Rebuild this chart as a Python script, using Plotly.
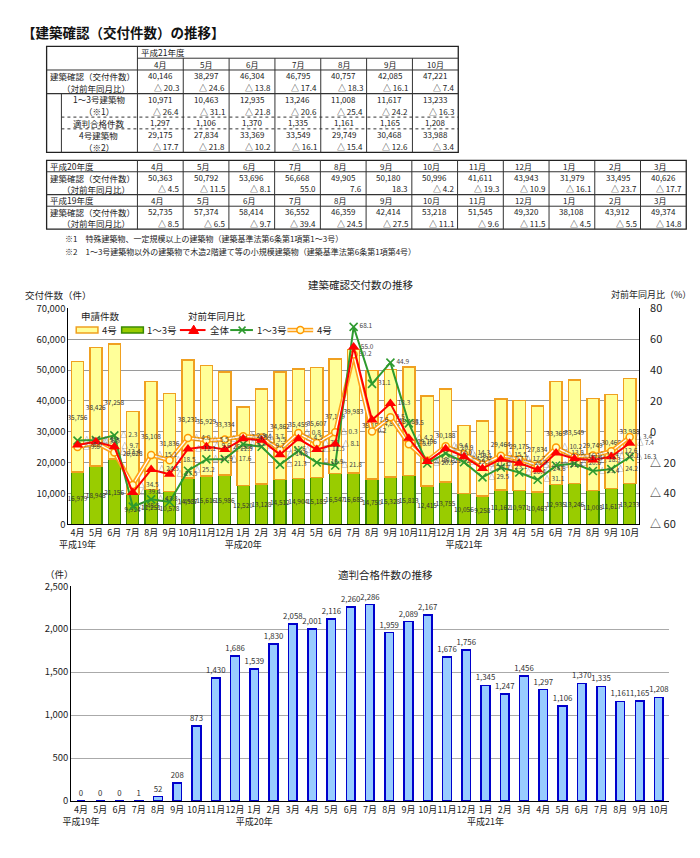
import plotly.graph_objects as go

W, H = 700, 858
FONT = "Noto Sans CJK JP, sans-serif"


def px(x):
    return x / W


def py(y):
    return 1 - y / H


# ---------------- data ----------------
MONTHS = ["4月", "5月", "6月", "7月", "8月", "9月", "10月", "11月", "12月", "1月", "2月", "3月"]
PERIOD_MONTHS = MONTHS + MONTHS + MONTHS[:7]          # H19/4 .. H21/10
ERA_MARKS = {0: "平成19年", 9: "平成20年", 21: "平成21年"}

# 1~3号 建築物 (件)
G13 = [16979, 18948, 21156, 9924, 11251, 10578, 14987, 15616, 15986, 12520, 13128, 14512,
       14904, 15185, 16547, 16685, 14750, 15328, 15813, 12415, 13755, 10056, 9258, 11162,
       10971, 10463, 12935, 13246, 11008, 11617, 13233]
# 4号 建築物 (件)
G4 = [35756, 38426, 37258, 26628, 35108, 31836, 38231, 35929, 33334, 25588, 30784, 34862,
      35459, 35607, 37149, 39983, 35155, 34852, 35183, 29196, 30188, 21923, 24237, 29464,
      29175, 27834, 33369, 33549, 29749, 30468, 33988]
# 建築確認 交付件数 合計
TOTAL = [52735, 57374, 58414, 36552, 46359, 42414, 53218, 51545, 49320, 38108, 43912, 49374,
         50363, 50792, 53696, 56668, 49905, 50180, 50996, 41611, 43943, 31979, 33495, 40626,
         40146, 38297, 46304, 46795, 40757, 42085, 47221]
# 対前年同月比 (%)
PCT_TOTAL = [-8.5, -6.5, -9.7, -39.4, -24.5, -27.5, -11.1, -9.6, -11.5, -4.5, -5.5, -14.8,
             -4.5, -11.5, -8.1, 55.0, 7.6, 18.3, -4.2, -19.3, -10.9, -16.1, -23.7, -17.7,
             -20.3, -24.6, -13.8, -17.4, -18.3, -16.1, -7.4]
PCT_G13 = [-5.7, -5.3, -2.3, -48.5, -43.8, -45.5, -25.2, -17.9, -17.6, -8.0, -9.7, -21.3,
           -12.2, -19.9, -21.8, 68.1, 31.1, 44.9, 5.5, -20.5, -14.0, -19.7, -29.5, -23.1,
           -26.4, -31.1, -21.8, -20.6, -25.4, -24.2, -16.3]
PCT_G4 = [-9.8, -7.1, -13.4, -34.5, -15.1, -18.5, -4.0, -5.5, -4.9, -2.8, -3.7, -11.6,
          -0.8, -7.3, -0.3, 50.2, 0.2, 9.5, -8.0, -18.7, -9.4, -14.3, -21.3, -15.5,
          -17.7, -21.8, -10.2, -16.1, -15.4, -12.6, -3.4]
# 適判合格件数
TEKIHAN = [0, 0, 0, 1, 52, 208, 873, 1430, 1686, 1539, 1830, 2058,
           2001, 2116, 2260, 2286, 1959, 2089, 2167, 1676, 1756, 1345, 1247, 1456,
           1297, 1106, 1370, 1335, 1161, 1165, 1208]

PCT_TICKS = [-60, -40, -20, 0, 20, 40, 60, 80]

# colours
YELLOW_FILL, YELLOW_LINE = "#FFFF99", "#F0A020"
GREEN_FILL, GREEN_LINE = "#99CC00", "#3A8A00"
RED = "#FF0000"
GREEN = "#2E9A2E"
ORANGE = "#FFA31A"


def fmt_num(v):
    return f"{v:,}"


def fmt_pct(v):
    return f"△ {abs(v):.1f}" if v < 0 else f"{v:.1f}"


idx = list(range(len(PERIOD_MONTHS)))
ticktext = [m + ("<br>" + ERA_MARKS[i] if i in ERA_MARKS else "") for i, m in enumerate(PERIOD_MONTHS)]

fig = go.Figure()

# ---------------- middle chart: bars ----------------
fig.add_trace(go.Bar(
    x=idx, y=G13, name="1～3号", xaxis="x", yaxis="y",
    marker=dict(color=GREEN_FILL, line=dict(color=GREEN_LINE, width=1.2)),
    width=0.66, text=[fmt_num(v) for v in G13], textposition="inside",
    insidetextanchor="middle", textangle=0, constraintext="none",
    textfont=dict(size=6.5, color="#333333"), hoverinfo="skip"))
fig.add_trace(go.Bar(
    x=idx, y=G4, name="4号", xaxis="x", yaxis="y",
    marker=dict(color=YELLOW_FILL, line=dict(color=YELLOW_LINE, width=1.5)),
    width=0.66, text=[fmt_num(v) for v in G4], textposition="inside",
    insidetextanchor="middle", textangle=0, constraintext="none",
    textfont=dict(size=6.5, color="#333333"), hoverinfo="skip"))

# ---------------- middle chart: lines (right axis) ----------------
fig.add_trace(go.Scatter(
    x=idx, y=PCT_G4, name="4号", xaxis="x", yaxis="y2", mode="lines",
    line=dict(color=ORANGE, width=4.5), hoverinfo="skip"))
fig.add_trace(go.Scatter(
    x=idx, y=PCT_G4, xaxis="x", yaxis="y2", mode="lines",
    line=dict(color="#FFFFFF", width=1.3), hoverinfo="skip"))
fig.add_trace(go.Scatter(
    x=idx, y=PCT_G4, xaxis="x", yaxis="y2", mode="markers+text",
    marker=dict(symbol="circle", size=7, color="#FFFFCC", line=dict(color="#FF9900", width=1.5)),
    text=[fmt_pct(v) for v in PCT_G4], textposition="middle right",
    textfont=dict(size=6.5, color="#444444"), cliponaxis=False, hoverinfo="skip"))
fig.add_trace(go.Scatter(
    x=idx, y=PCT_G13, name="1～3号", xaxis="x", yaxis="y2", mode="lines+markers+text",
    line=dict(color=GREEN, width=2),
    marker=dict(symbol="x-thin", size=8, color=GREEN, line=dict(color=GREEN, width=1.6)),
    text=[fmt_pct(v) for v in PCT_G13], textposition="middle right",
    textfont=dict(size=6.5, color="#444444"), cliponaxis=False, hoverinfo="skip"))
fig.add_trace(go.Scatter(
    x=idx, y=PCT_TOTAL, name="全体", xaxis="x", yaxis="y2", mode="lines+markers+text",
    line=dict(color=RED, width=2),
    marker=dict(symbol="triangle-up", size=10, color=RED),
    text=[fmt_pct(v) for v in PCT_TOTAL], textposition="middle right",
    textfont=dict(size=6.5, color="#444444"), cliponaxis=False, hoverinfo="skip"))

# ---------------- bottom chart ----------------
fig.add_trace(go.Bar(
    x=idx, y=TEKIHAN, xaxis="x2", yaxis="y3", width=0.45,
    marker=dict(color="#99CCFF", line=dict(color="#0000CC", width=1.5)),
    text=[fmt_num(v) for v in TEKIHAN], textposition="outside", cliponaxis=False,
    constraintext="none", textangle=0,
    textfont=dict(size=7.8, color="#333333"), hoverinfo="skip"))

axis_font = dict(size=9.5, color="#222222", family=FONT)

fig.update_layout(
    width=W, height=H, margin=dict(l=0, r=0, t=0, b=0),
    paper_bgcolor="white", plot_bgcolor="white",
    font=dict(family=FONT, color="#222222"),
    barmode="stack", bargap=0.3,
    showlegend=False,
    xaxis=dict(domain=[px(52), px(630)], anchor="y", range=[-0.5, 30.5],
               tickmode="array", tickvals=idx, ticktext=ticktext, tickangle=0,
               tickfont=dict(size=9, color="#222222", family=FONT),
               showline=True, linecolor="#000000", linewidth=1,
               showgrid=False, zeroline=False, ticks=""),
    yaxis=dict(domain=[py(517), py(297)], anchor="x", range=[0, 70000],
               tickmode="array", tickvals=list(range(0, 70001, 10000)), tickformat=",d",
               tickfont=axis_font, showline=True, linecolor="#000000", linewidth=1,
               showgrid=True, gridcolor="#9A9A9A", gridwidth=1, zeroline=False, ticks=""),
    yaxis2=dict(overlaying="y", side="right", anchor="x", range=[-60, 80],
                tickmode="array", tickvals=PCT_TICKS,
                ticktext=[fmt_pct(v).replace(".0", "") for v in PCT_TICKS],
                tickfont=dict(size=11, color="#222222", family=FONT), showline=True,
                linecolor="#000000", linewidth=1, showgrid=False, zeroline=False, ticks="",
                ticklabelstandoff=8),
    xaxis2=dict(domain=[px(55), px(660)], anchor="y3", range=[-0.5, 30.5],
                tickmode="array", tickvals=idx, ticktext=ticktext, tickangle=0,
                tickfont=dict(size=9, color="#222222", family=FONT), showline=True,
                linecolor="#000000", linewidth=1, showgrid=False, zeroline=False, ticks=""),
    yaxis3=dict(domain=[py(799), py(580)], anchor="x2", range=[0, 2500],
                tickmode="array", tickvals=list(range(0, 2501, 500)), tickformat=",d",
                tickfont=axis_font, showline=True, linecolor="#000000", linewidth=1,
                showgrid=True, gridcolor="#AAAAAA", zeroline=False, ticks=""),
)

annotations = []
shapes = []


def text(x, y, s, size=8.5, anchor="center", color="#222222"):
    annotations.append(dict(x=px(x), y=py(y), xref="paper", yref="paper", text=s,
                            showarrow=False, xanchor=anchor, yanchor="middle",
                            font=dict(size=size, color=color, family=FONT)))


def line(x0, y0, x1, y1, width=1, dash="solid", color="#333333"):
    shapes.append(dict(type="line", xref="paper", yref="paper", x0=px(x0), y0=py(y0),
                       x1=px(x1), y1=py(y1), line=dict(color=color, width=width, dash=dash)))


def rect(x0, y0, x1, y1, fill, border, width=1.2):
    shapes.append(dict(type="rect", xref="paper", yref="paper", x0=px(x0), y0=py(y1),
                       x1=px(x1), y1=py(y0), fillcolor=fill, line=dict(color=border, width=width)))


# chart titles
text(348, 273, "建築確認交付数の推移", size=10.5)
text(6, 283, "交付件数（件）", size=9.5, anchor="left")
text(600, 283, "対前年同月比（%）", size=9, anchor="left")
text(373, 568, "適判合格件数の推移", size=10.5)
text(26, 568, "（件）", size=9.5, anchor="left")

# ---------------- legend of the middle chart ----------------
LEG_Y = 319
text(63, 305, "申請件数", size=9.5, anchor="left")
text(171, 305, "対前年同月比", size=9.5, anchor="left")
rect(60, LEG_Y - 3, 82, LEG_Y + 3, YELLOW_FILL, YELLOW_LINE, 1.5)
text(84, LEG_Y, "4号", size=9.5, anchor="left")
rect(106, LEG_Y - 3, 128, LEG_Y + 3, GREEN_FILL, GREEN_LINE, 1.5)
text(130, LEG_Y, "1～3号", size=9.5, anchor="left")
# 全体 (red line with triangle)
line(165, LEG_Y, 191, LEG_Y, width=2, color=RED)
shapes.append(dict(type="path", xref="paper", yref="paper",
                   path=f"M {px(174)},{py(LEG_Y + 3.5)} L {px(184)},{py(LEG_Y + 3.5)} L {px(179)},{py(LEG_Y - 5)} Z",
                   fillcolor=RED, line=dict(color=RED, width=1)))
text(193, LEG_Y, "全体", size=9.5, anchor="left")
# 1~3号 (green line with x)
line(216, LEG_Y, 239, LEG_Y, width=2, color=GREEN)
line(224.5, LEG_Y - 3.5, 231.5, LEG_Y + 3.5, width=1.6, color=GREEN)
line(224.5, LEG_Y + 3.5, 231.5, LEG_Y - 3.5, width=1.6, color=GREEN)
text(241, LEG_Y, "1～3号", size=9.5, anchor="left")
# 4号 (orange double line with circle)
line(274, LEG_Y, 300, LEG_Y, width=4.5, color=ORANGE)
line(274, LEG_Y, 300, LEG_Y, width=1.3, color="#FFFFFF")
shapes.append(dict(type="circle", xref="paper", yref="paper",
                   x0=px(283.5), x1=px(290.5), y0=py(LEG_Y + 3.5), y1=py(LEG_Y - 3.5),
                   fillcolor="#FFFFCC", line=dict(color="#FF9900", width=1.5)))
text(302, LEG_Y, "4号", size=9.5, anchor="left")

# page title
text(3, 15, "<b>【建築確認（交付件数）の推移】</b>", size=13.5, anchor="left", color="#111111")

# ---------------- table 1 (平成21年度) ----------------
T1X0, T1LBL, T1COLW, T1Y0, T1RH = 30, 122, 46.43, 30, 12
T1X1 = T1LBL + 7 * T1COLW
T1Y1 = T1Y0 + 9 * T1RH
shapes.append(dict(type="rect", xref="paper", yref="paper", x0=px(T1X0), y0=py(T1Y1),
                   x1=px(T1X1), y1=py(T1Y0), line=dict(color="#222222", width=1.3)))
line(T1LBL, T1Y0 + T1RH, T1X1, T1Y0 + T1RH)
line(T1X0, T1Y0 + 2 * T1RH, T1X1, T1Y0 + 2 * T1RH)
line(T1X0, T1Y0 + 4 * T1RH, T1X1, T1Y0 + 4 * T1RH, width=1.3)
line(45, T1Y0 + 6 * T1RH, T1X1, T1Y0 + 6 * T1RH, dash="dot")
line(45, T1Y0 + 7 * T1RH, T1X1, T1Y0 + 7 * T1RH, dash="dot")
line(T1LBL, T1Y0, T1LBL, T1Y1)
line(45, T1Y0 + 4 * T1RH, 45, T1Y1)
for k in range(1, 7):
    xk = T1LBL + k * T1COLW
    line(xk, T1Y0 + T1RH, xk, T1Y1)


def rc(r):
    return T1Y0 + (r + 0.5) * T1RH


text(124, rc(0), "平成21年度", anchor="left", size=8.5)
text(T1X0 + 1, rc(2), "建築確認（交付件数）", anchor="left", size=8.5)
text(80, rc(3), "（対前年同月比）", size=8.5)
text(83, rc(4), "1～3号建築物", size=8.5)
text(83, rc(5), "（※1）", size=8.5)
text(83, rc(6), "適判合格件数", size=8.5)
text(83, rc(7), "4号建築物", size=8.5)
text(83, rc(8), "（※2）", size=8.5)
h21 = slice(24, 31)
rows_num = {2: TOTAL[h21], 4: G13[h21], 6: TEKIHAN[h21], 7: G4[h21]}
rows_pct = {3: PCT_TOTAL[h21], 5: PCT_G13[h21], 8: PCT_G4[h21]}
for k, m in enumerate(MONTHS[:7]):
    cx = T1LBL + (k + 0.5) * T1COLW
    text(cx, rc(1), m, size=8)
    for r, vals in rows_num.items():
        text(cx, rc(r), fmt_num(vals[k]), size=8)
    for r, vals in rows_pct.items():
        text(T1LBL + (k + 1) * T1COLW - 2, rc(r), fmt_pct(vals[k]), size=8, anchor="right")

# ---------------- table 2 (平成20年度 / 平成19年度) ----------------
T2X0, T2LBL, T2COLW, T2Y0, T2RH = 30, 122, 46.33, 146, 11.7
T2X1 = T2LBL + 12 * T2COLW
T2Y1 = T2Y0 + 6 * T2RH
shapes.append(dict(type="rect", xref="paper", yref="paper", x0=px(T2X0), y0=py(T2Y1),
                   x1=px(T2X1), y1=py(T2Y0), line=dict(color="#222222", width=1.3)))
line(T2X0, T2Y0 + T2RH, T2X1, T2Y0 + T2RH)
line(T2X0, T2Y0 + 3 * T2RH, T2X1, T2Y0 + 3 * T2RH, width=1.3)
line(T2X0, T2Y0 + 4 * T2RH, T2X1, T2Y0 + 4 * T2RH)
line(T2LBL, T2Y0, T2LBL, T2Y1)
for k in range(1, 12):
    xk = T2LBL + k * T2COLW
    line(xk, T2Y0, xk, T2Y1)


def rc2(r):
    return T2Y0 + (r + 0.5) * T2RH


blocks = [(0, "平成20年度", slice(12, 24)), (3, "平成19年度", slice(0, 12))]
for r0, label, sl in blocks:
    text(T2X0 + 1, rc2(r0), label, anchor="left", size=8.5)
    text(T2X0 + 1, rc2(r0 + 1), "建築確認（交付件数）", anchor="left", size=8.5)
    text(80, rc2(r0 + 2), "（対前年同月比）", size=8.5)
    tot = TOTAL[sl]
    pct = PCT_TOTAL[sl]
    for k, m in enumerate(MONTHS):
        cx = T2LBL + (k + 0.5) * T2COLW
        text(cx - 3, rc2(r0), m, size=8)
        text(cx, rc2(r0 + 1), fmt_num(tot[k]), size=8)
        text(T2LBL + (k + 1) * T2COLW - 2, rc2(r0 + 2), fmt_pct(pct[k]), size=8, anchor="right")

text(47, 226, "※1　特殊建築物、一定規模以上の建築物（建築基準法第6条第1項第1～3号）", size=8, anchor="left")
text(47, 239, "※2　1～3号建築物以外の建築物で木造2階建て等の小規模建築物（建築基準法第6条第1項第4号）", size=8, anchor="left")

fig.update_layout(annotations=annotations, shapes=shapes)

fig.write_html("out.html")
